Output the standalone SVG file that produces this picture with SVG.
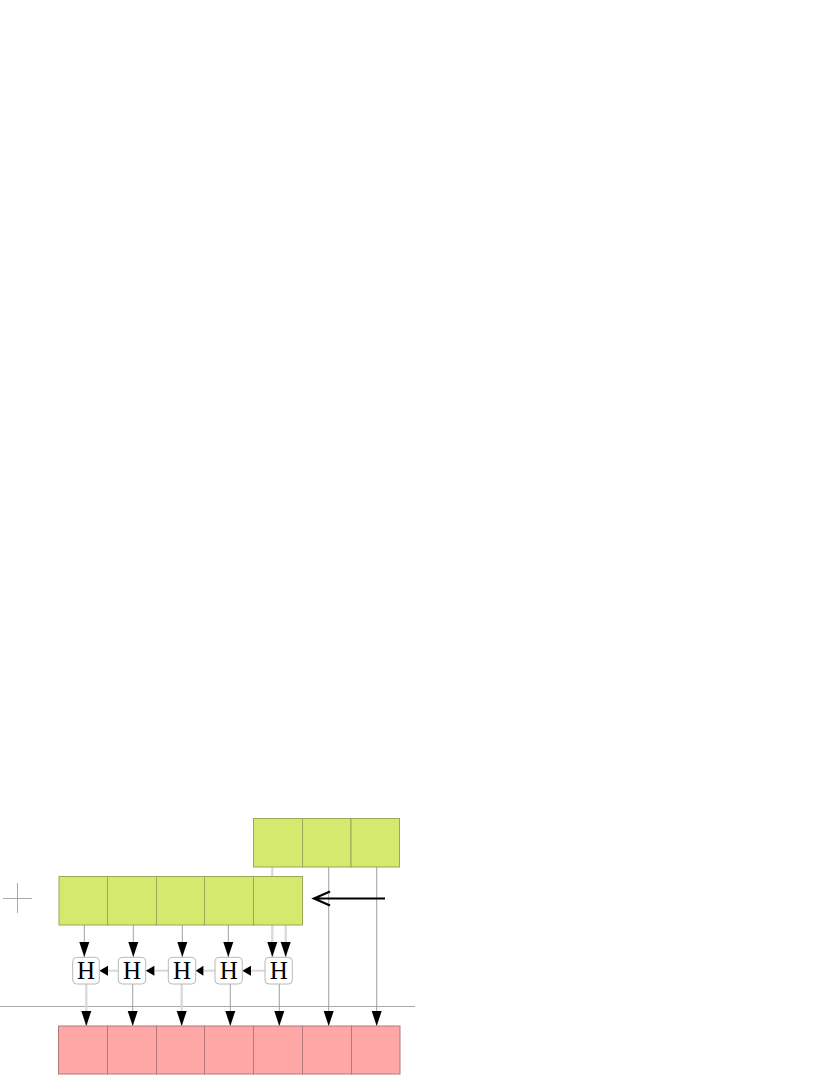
<svg xmlns="http://www.w3.org/2000/svg" width="830" height="1075" viewBox="0 0 830 1075">
<style>
.g{fill:#d5e96f;stroke:#9aa85a;stroke-width:1}
.p{fill:#ffa6a6;stroke:#b07878;stroke-width:1}
.h rect{fill:#fff;stroke:#b8b8b8;stroke-width:1}
.h text{font-family:"Liberation Serif","DejaVu Serif",serif;font-size:25px;fill:#000;text-anchor:middle}
.c{stroke:#a0a0a0;stroke-width:1;fill:none}
.cl{stroke:#d8d8d8;stroke-width:2.2;fill:none}
.ah{fill:#000}
</style>
<defs>
<marker id="a" markerUnits="userSpaceOnUse" markerWidth="16" markerHeight="11" refX="15" refY="5.5" orient="auto" viewBox="0 0 16 11"><path d="M0 0.5 L15 5.5 L0 10.5 Z" class="ah"/></marker>
</defs>
<g id="cross"><path d="M3 898.5H32M17.5 883V913" stroke="#aaa" stroke-width="1" fill="none"/></g>
<g id="axis"><path d="M0 1006.5H415" stroke="#aaa" stroke-width="1"/></g>
<g id="connectors">
<path class="cl" d="M272.3 867V876"/>
<path class="c" d="M84.3 925V957" marker-end="url(#a)"/>
<path class="c" d="M133.3 925V957" marker-end="url(#a)"/>
<path class="c" d="M182.3 925V957" marker-end="url(#a)"/>
<path class="c" d="M228.3 925V957" marker-end="url(#a)"/>
<path class="cl" d="M272.3 925V957" marker-end="url(#a)"/>
<path class="cl" d="M285.7 925V957" marker-end="url(#a)"/>
<path class="cl" d="M86.3 984V1026" marker-end="url(#a)"/>
<path class="c" d="M132.7 984V1026" marker-end="url(#a)"/>
<path class="cl" d="M181.7 984V1026" marker-end="url(#a)"/>
<path class="c" d="M230.3 984V1026" marker-end="url(#a)"/>
<path class="c" d="M279.3 984V1026" marker-end="url(#a)"/>
<path class="c" d="M328.7 867V1026" marker-end="url(#a)"/>
<path class="c" d="M376.7 867V1026" marker-end="url(#a)"/>
<g class="cl" style="stroke-width:2">
<path d="M118.3 970.7H108"/>
<path d="M168.3 970.7H155"/>
<path d="M215 970.7H202"/>
<path d="M265 970.7H250"/>
</g>
<path class="ah" d="M99.3 970.7L108 965.7V975.7Z"/>
<path class="ah" d="M145.7 970.7L154.4 965.7V975.7Z"/>
<path class="ah" d="M195.7 970.7L203.4 965.7V975.7Z"/>
<path class="ah" d="M242.3 970.7L251 965.7V975.7Z"/>
<path d="M385 898.5H314M330 891.5L314 898.5L330 905.5" stroke="#000" stroke-width="2.2" fill="none"/>
</g>
<g id="top-row">
<rect class="g" x="253.5" y="818.5" width="49" height="48.5"/>
<rect class="g" x="302.5" y="818.5" width="48.5" height="48.5"/>
<rect class="g" x="351" y="818.5" width="48.5" height="48.5"/>
</g>
<g id="middle-row">
<rect class="g" x="59" y="876.5" width="48.5" height="48.5"/>
<rect class="g" x="107.5" y="876.5" width="49" height="48.5"/>
<rect class="g" x="156.5" y="876.5" width="48" height="48.5"/>
<rect class="g" x="204.5" y="876.5" width="49" height="48.5"/>
<rect class="g" x="253.5" y="876.5" width="49" height="48.5"/>
</g>
<g id="h1" class="h"><rect x="72.7" y="957.3" width="26.6" height="26.7" rx="4"/><text x="86" y="979">H</text></g>
<g id="h2" class="h"><rect x="118.3" y="957.3" width="27.4" height="26.7" rx="4"/><text x="132" y="979">H</text></g>
<g id="h3" class="h"><rect x="168.3" y="957.3" width="27.4" height="26.7" rx="4"/><text x="182" y="979">H</text></g>
<g id="h4" class="h"><rect x="215" y="957.3" width="27.3" height="26.7" rx="4"/><text x="228.7" y="979">H</text></g>
<g id="h5" class="h"><rect x="265" y="957.3" width="27.3" height="26.7" rx="4"/><text x="278.7" y="979">H</text></g>
<g id="bottom-row">
<rect class="p" x="58.5" y="1026" width="49" height="48"/>
<rect class="p" x="107.5" y="1026" width="49" height="48"/>
<rect class="p" x="156.5" y="1026" width="48" height="48"/>
<rect class="p" x="204.5" y="1026" width="49" height="48"/>
<rect class="p" x="253.5" y="1026" width="49" height="48"/>
<rect class="p" x="302.5" y="1026" width="49" height="48"/>
<rect class="p" x="351.5" y="1026" width="48.5" height="48"/>
</g>
</svg>
